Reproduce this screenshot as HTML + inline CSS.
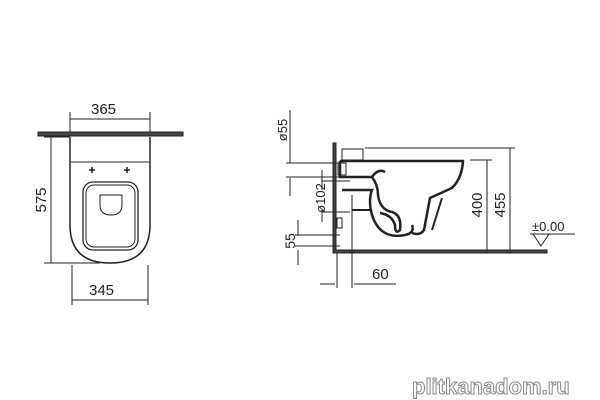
<html><head><style>body{margin:0;background:#fff}svg{display:block}</style></head><body>
<svg width="600" height="400" viewBox="0 0 600 400" font-family="Liberation Sans, sans-serif">
<g stroke="#222" fill="none" stroke-width="1">
<!-- front view -->
<rect x="38" y="132" width="145" height="4" fill="#444"/>
<path d="M70 137 V225 Q70 263 110 263 Q150 263 150 225 V137" stroke-width="1.5"/>
<line x1="71" y1="162" x2="149" y2="162"/>
<rect x="83" y="182" width="55" height="68" rx="10" stroke-width="1.3"/>
<rect x="86" y="185" width="49" height="62" rx="8"/>
<path d="M100 195 h22 v10 q0 10 -11 10 q-11 0 -11 -10 z"/>
<path d="M89 170h6M92 167v6M124 170h6M127 167v6" stroke-width="1.5"/>
<line x1="70" y1="112" x2="70" y2="132"/><line x1="150" y1="112" x2="150" y2="132"/>
<line x1="70" y1="119" x2="150" y2="119"/>
<line x1="44" y1="137" x2="70" y2="137"/><line x1="44" y1="263" x2="100" y2="263"/>
<line x1="51" y1="137" x2="51" y2="263"/>
<line x1="72" y1="265" x2="72" y2="305"/><line x1="148" y1="265" x2="148" y2="305"/>
<line x1="72" y1="300" x2="148" y2="300"/>
<!-- side view -->
<rect x="333" y="143" width="3" height="110" fill="#444"/>
<rect x="333" y="250" width="214" height="3" fill="#444"/>
<rect x="342" y="149" width="21" height="11"/>
<path d="M340 161 H463 Q462 178 452 188 L430 198 L424 230 Q420 236 412 233" stroke-width="2.5"/>
<path d="M340 161 V177 H372 Q378 168 385 172" stroke-width="2.5"/>
<path d="M372 177 Q378 185 378 195 Q380 210 392 212 Q402 215 400 230 Q395 235 395 225 Q392 215 380 213" stroke-width="2.5"/>
<path d="M342 190 H372 Q368 200 372 215 Q380 240 405 235 Q415 233 412 225" stroke-width="2.5"/>
<path d="M352 210 H370" stroke-width="2"/>
<path d="M442 198 L432 230" stroke-width="2"/>
<rect x="338" y="163" width="8" height="12"/>
<rect x="337" y="218" width="5" height="10"/>
<line x1="365" y1="148" x2="515" y2="148"/><line x1="470" y1="160" x2="492" y2="160"/>
<line x1="510" y1="148" x2="510" y2="250"/><line x1="487" y1="160" x2="487" y2="250"/>
<line x1="290" y1="110" x2="290" y2="163"/><line x1="286" y1="163" x2="342" y2="163"/>
<line x1="290" y1="178" x2="290" y2="196"/><line x1="286" y1="177" x2="342" y2="177"/>
<line x1="322" y1="170" x2="322" y2="190"/><line x1="322" y1="210" x2="322" y2="222"/>
<line x1="322" y1="181" x2="350" y2="181"/><line x1="322" y1="212" x2="350" y2="212"/>
<line x1="298" y1="220" x2="298" y2="236"/><line x1="295" y1="235" x2="340" y2="235"/>
<line x1="295" y1="246" x2="340" y2="246"/><line x1="298" y1="250" x2="298" y2="265"/>
<line x1="337" y1="253" x2="337" y2="288"/><line x1="352" y1="195" x2="352" y2="288"/>
<line x1="320" y1="284" x2="335" y2="284"/><line x1="354" y1="284" x2="396" y2="284"/>
<line x1="530" y1="234" x2="575" y2="234"/>
<path d="M533 234 L541 246 L549 234"/>
</g>
<g font-size="15" fill="#222">
<text x="91" y="114">365</text>
<text x="89" y="295">345</text>
<text transform="translate(46,200) rotate(-90)" text-anchor="middle">575</text>
<text x="372" y="279">60</text>
<text transform="translate(482,205) rotate(-90)" text-anchor="middle">400</text>
<text transform="translate(505,205) rotate(-90)" text-anchor="middle">455</text>
<text x="532" y="231" font-size="13">±0.00</text>
<text transform="translate(287,130) rotate(-90)" text-anchor="middle" font-size="13">ø55</text>
<text transform="translate(325,198) rotate(-90)" text-anchor="middle" font-size="13">ø102</text>
<text transform="translate(295,241) rotate(-90)" text-anchor="middle" font-size="14">55</text>
</g>
<text x="412" y="394" font-size="22" fill="#fff" stroke="#888" stroke-width="1" font-weight="bold">plitkanadom.ru</text>
</svg></body></html>
